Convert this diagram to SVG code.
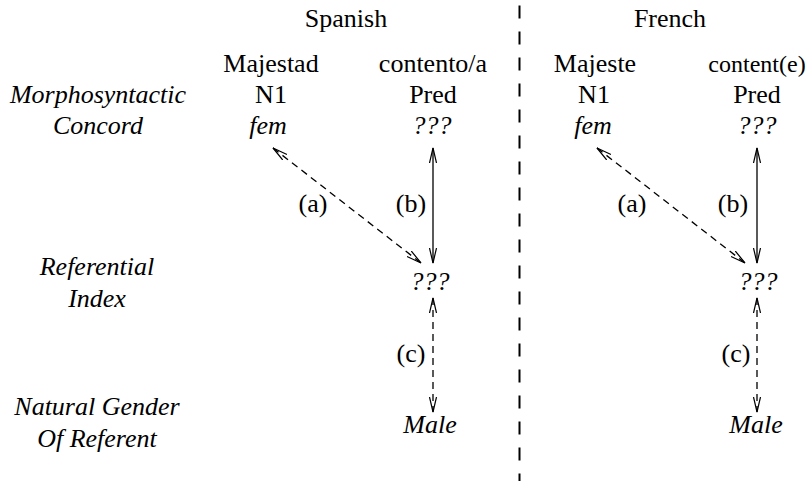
<svg xmlns="http://www.w3.org/2000/svg" width="809" height="481" viewBox="0 0 809 481">
<style>
text{font-size:26px;fill:#000;text-anchor:middle}
.i{font-style:italic}
.ln{stroke:#000;stroke-width:1.3;fill:none}
.d{stroke-dasharray:7 5}
</style>
<defs>
<marker id="ah" markerUnits="userSpaceOnUse" markerWidth="18" markerHeight="10" refX="15" refY="4.5" orient="auto-start-reverse">
<path d="M0,1 L15,4.5 L0,8" fill="none" stroke="#000" stroke-width="1.2"/>
</marker>
</defs>
<rect width="809" height="481" fill="#fff"/>
<g font-family="'Liberation Serif', 'Times New Roman', Times, serif">
<g id="labels">
<text class="i" x="98" y="103">Morphosyntactic</text>
<text class="i" x="98" y="134">Concord</text>
<text class="i" x="97" y="275">Referential</text>
<text class="i" x="97" y="307">Index</text>
<text class="i" x="97" y="415">Natural Gender</text>
<text class="i" x="97" y="447">Of Referent</text>
</g>
<g id="divider"><line x1="519.5" y1="5.5" x2="519.5" y2="481" stroke="#000" stroke-width="2" stroke-dasharray="13 13"/></g>
<g id="spanish">
<text x="346" y="27">Spanish</text>
<g id="es-n1"><text x="271" y="72">Majestad</text><text x="271" y="103">N1</text><text class="i" x="268" y="134">fem</text></g>
<g id="es-pred"><text x="433" y="72">contento/a</text><text x="433" y="103">Pred</text><text class="i" x="432" y="134">???</text></g>
<g id="es-ref"><text class="i" x="430" y="290">???</text></g>
<g id="es-nat"><text class="i" x="430" y="433">Male</text></g>
</g>
<g id="french">
<text x="670" y="27">French</text>
<g id="fr-n1"><text x="595" y="72">Majeste</text><text x="594" y="103">N1</text><text class="i" x="593" y="134">fem</text></g>
<g id="fr-pred"><text x="757" y="72" style="font-size:24px">content(e)</text><text x="757" y="103">Pred</text><text class="i" x="757" y="134">???</text></g>
<g id="fr-ref"><text class="i" x="758" y="290">???</text></g>
<g id="fr-nat"><text class="i" x="756" y="433">Male</text></g>
</g>
<g id="connectors">
<line class="ln d" x1="273" y1="148" x2="421" y2="263" marker-start="url(#ah)" marker-end="url(#ah)"/>
<line class="ln" x1="433" y1="148" x2="433" y2="263" marker-start="url(#ah)" marker-end="url(#ah)"/>
<line class="ln d" x1="433" y1="298" x2="433" y2="412" marker-start="url(#ah)" marker-end="url(#ah)"/>
<line class="ln d" x1="597" y1="148" x2="745" y2="263" marker-start="url(#ah)" marker-end="url(#ah)"/>
<line class="ln" x1="757" y1="148" x2="757" y2="263" marker-start="url(#ah)" marker-end="url(#ah)"/>
<line class="ln d" x1="757" y1="298" x2="757" y2="412" marker-start="url(#ah)" marker-end="url(#ah)"/>
<text x="313" y="212">(a)</text>
<text x="411" y="212">(b)</text>
<text x="411" y="362">(c)</text>
<text x="632" y="212">(a)</text>
<text x="733" y="212">(b)</text>
<text x="736" y="362">(c)</text>
</g>
</g>
</svg>
